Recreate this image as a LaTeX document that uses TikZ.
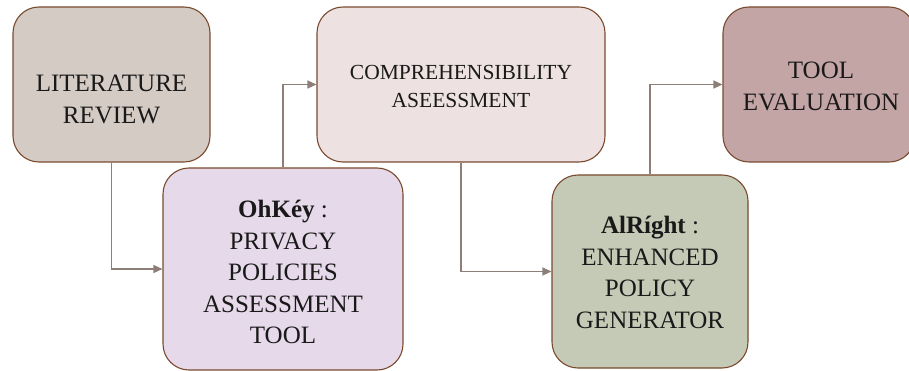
\documentclass[tikz,border=0pt]{standalone}
\usepackage{fontspec}
\setmainfont{Liberation Serif}
\usetikzlibrary{arrows.meta,calc}

\definecolor{edge}{HTML}{7A4A2E}
\definecolor{wire}{HTML}{8E7E78}
\definecolor{litfill}{HTML}{D4CBC4}
\definecolor{compfill}{HTML}{EDE2E1}
\definecolor{evalfill}{HTML}{C4A5A6}
\definecolor{ohfill}{HTML}{E6D9EA}
\definecolor{alfill}{HTML}{C5CAB6}

\tikzset{
  stage/.style={draw=edge, line width=1.1pt, rounded corners=26pt,
    rectangle, inner sep=0pt},
  caption/.style={align=center, text=black!90, inner sep=0pt},
  bigtext/.style={caption, font=\fontsize{25}{31.5}\selectfont},
  midtext/.style={caption, font=\fontsize{21.5}{28}\selectfont},
  conn/.style={draw=wire, line width=1.3pt,
    -{Triangle[length=9pt,width=8pt]}},
}

\begin{document}
\begin{tikzpicture}[x=1pt,y=-1pt]
  \useasboundingbox (0,0) rectangle (909,371);

  % stage boxes
  \node[stage, fill=litfill, minimum width=197pt, minimum height=155pt]
    (lit) at (111.5,84.5) {};
  \node[stage, fill=compfill, minimum width=288pt, minimum height=155pt]
    (comp) at (461,84.5) {};
  \node[stage, fill=evalfill, minimum width=192pt, minimum height=155pt]
    (eval) at (819,84.5) {};
  \node[stage, fill=ohfill, minimum width=240pt, minimum height=202pt]
    (oh) at (283,269) {};
  \node[stage, fill=alfill, minimum width=196pt, minimum height=193pt]
    (alr) at (650,271.5) {};

  % box texts
  \node[bigtext] (litt) at ($(lit.center)+(0,15)$) {LITERATURE\\REVIEW};
  \node[midtext] (compt) at ($(comp.center)+(0,2)$) {COMPREHENSIBILITY\\ASEESSMENT};
  \node[bigtext] (evalt) at ($(eval.center)+(2,2)$) {TOOL\\EVALUATION};
  \node[bigtext] (oht) at ($(oh.center)+(0,3)$)
    {\textbf{OhKéy} :\\PRIVACY\\POLICIES\\ASSESSMENT\\TOOL};
  \node[bigtext] (alrt) at ($(alr.center)+(0,1)$)
    {\textbf{AlRíght} :\\ENHANCED\\POLICY\\GENERATOR};

  % connectors
  \draw[conn] (lit.south) |- (oh.west);
  \draw[conn] (oh.north) |- (comp.west);
  \draw[conn] (comp.south) |- (alr.west);
  \draw[conn] (alr.north) |- (eval.west);
\end{tikzpicture}
\end{document}
